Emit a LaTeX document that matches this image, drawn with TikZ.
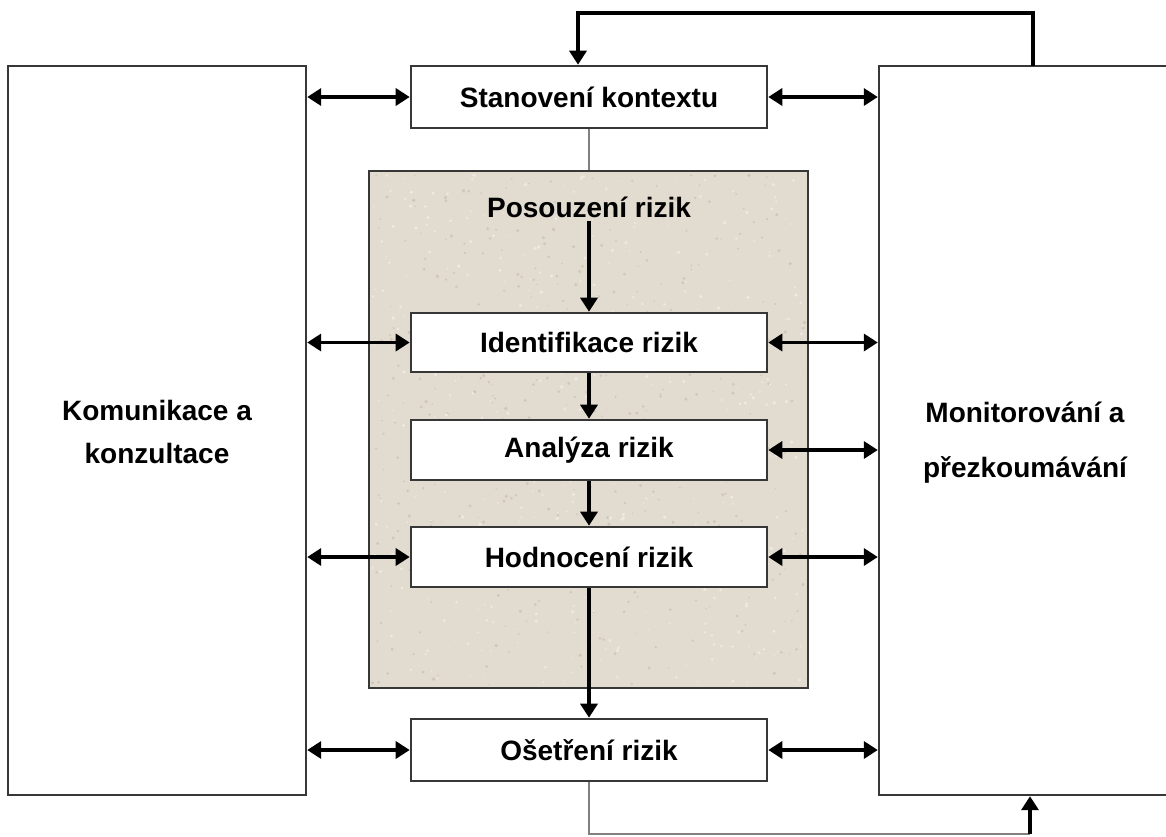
\documentclass[tikz,border=0pt]{standalone}
\usepackage{fontspec}
\setmainfont{Liberation Sans}
\usetikzlibrary{arrows.meta}
\definecolor{beige}{RGB}{226,219,207}
\definecolor{speck}{RGB}{208,199,186}
\definecolor{speckl}{RGB}{238,233,225}
\definecolor{boxline}{RGB}{55,55,55}
\definecolor{linkgray}{RGB}{128,128,128}
\begin{document}
\begin{tikzpicture}[x=1pt,y=-1pt,
  lab/.style={font=\fontsize{28}{32}\selectfont\bfseries},
  pbox/.style={draw=boxline, line width=2.6pt, fill=white, minimum width=356pt, inner sep=0pt, lab},
  sidebox/.style={draw=boxline, line width=2.4pt, fill=white, minimum height=729pt, inner sep=0pt},
  tip/.tip={Triangle[width=17pt,length=14pt]},
  arr/.style={line width=3.4pt, -tip},
  darr/.style={line width=3.4pt, tip-tip},
  glink/.style={draw=linkgray, line width=2.4pt}]
\useasboundingbox (0,0) rectangle (1166,836);

% side boxes
\node[sidebox, minimum width=298pt] (L) at (157,430.5) {};
\node[sidebox, minimum width=330pt] (R) at (1044,430.5) {};
\node[lab] (l1) at (157,410) {Komunikace a};
\node[lab] (l2) at (157,453) {konzultace};
\node[lab] (r1) at (1025,412) {Monitorování a};
\node[lab] (r2) at (1025,470) {přezkoumávání};

% shaded assessment box
\node[draw=boxline, line width=2pt, fill=beige, minimum width=439pt, minimum height=517pt, inner sep=0pt] (P) at (588.5,429.5) {};
\pgfmathsetseed{11}
\foreach \i in {1,...,450}{
  \fill[speck] ({372+433*rnd},{174+511*rnd}) circle ({0.6+1.3*rnd});
  \fill[speckl] ({372+433*rnd},{174+511*rnd}) circle ({0.6+1.3*rnd});
}
\node[lab] (pl) at (589,207) {Posouzení rizik};

% process boxes
\node[pbox, minimum height=62pt] (S) at (589,97) {Stanovení kontextu};
\node[pbox, minimum height=59pt] (I) at (589,342.5) {Identifikace rizik};
\node[pbox, minimum height=60pt] (A) at (589,450) {Analýza rizik};
\node[pbox, minimum height=60pt] (H) at (589,557) {Hodnocení rizik};
\node[pbox, minimum height=62pt] (O) at (589,750) {Ošetření rizik};

% vertical flow
\draw[glink] (S.south) -- (S.south |- P.north);
\draw[arr] (pl.south) -- (I.north);
\draw[arr] (I.south) -- (A.north);
\draw[arr] (A.south) -- (H.north);
\draw[arr] (H.south) -- (O.north);

% double arrows to side boxes
\draw[darr] (L.east |- S.west) -- (S.west);
\draw[darr] (S.east) -- (R.west |- S.east);
\draw[darr] (L.east |- I.west) -- (I.west);
\draw[darr] (I.east) -- (R.west |- I.east);
\draw[darr] (A.east) -- (R.west |- A.east);
\draw[darr] (L.east |- H.west) -- (H.west);
\draw[darr] (H.east) -- (R.west |- H.east);
\draw[darr] (L.east |- O.west) -- (O.west);
\draw[darr] (O.east) -- (R.west |- O.east);

% feedback loop at top
\coordinate (rt) at (1033,66);
\coordinate (tt) at (578,13);
\draw[arr] (rt) -- (rt |- tt) -- (tt) -- (tt |- S.north);

% loop at bottom
\coordinate (bb) at (1030,834);
\draw[glink] (O.south) -- (O.south |- bb) -- (bb);
\draw[arr] (bb) -- (bb |- R.south);
\end{tikzpicture}
\end{document}
